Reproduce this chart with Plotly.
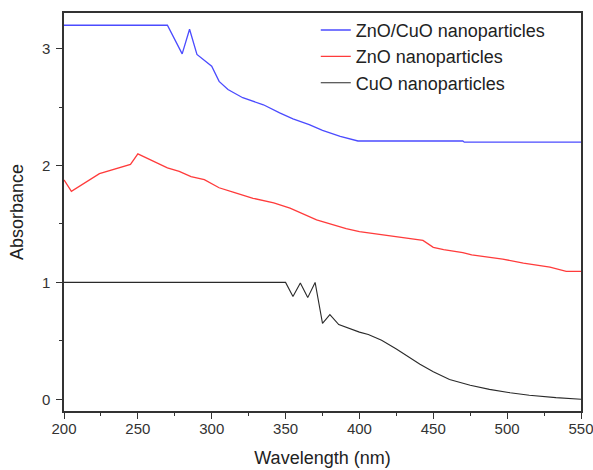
import plotly.graph_objects as go

# ZnO/CuO nanoparticles
wl_zc = [200, 270, 280, 285, 290, 300, 305, 311, 321, 335, 346, 355, 366, 375, 387, 399, 470, 471, 550]
ab_zc = [3.20, 3.20, 2.955, 3.166, 2.95, 2.85, 2.72, 2.65, 2.58, 2.52, 2.45, 2.40, 2.35, 2.30, 2.25, 2.21, 2.21, 2.20, 2.20]

# ZnO nanoparticles
wl_z = [200, 205, 224, 245, 250, 270, 278, 286, 295, 305, 315, 328, 342, 353, 371, 391, 400, 420, 443, 450, 457, 470, 476, 497, 511, 529, 540, 550]
ab_z = [1.877, 1.78, 1.93, 2.01, 2.10, 1.98, 1.95, 1.905, 1.88, 1.81, 1.77, 1.72, 1.68, 1.635, 1.535, 1.46, 1.435, 1.40, 1.36, 1.30, 1.28, 1.255, 1.235, 1.20, 1.165, 1.13, 1.095, 1.095]

# CuO nanoparticles
wl_c = [200, 350, 355, 360, 365, 370, 375, 380, 386, 400, 406, 415, 425, 441, 450, 461, 475, 488, 502, 515, 533, 550]
ab_c = [1.0, 1.0, 0.88, 0.995, 0.87, 1.0, 0.65, 0.725, 0.64, 0.575, 0.555, 0.505, 0.43, 0.30, 0.235, 0.17, 0.12, 0.085, 0.056, 0.035, 0.014, 0.0]

x_ticks = [200, 250, 300, 350, 400, 450, 500, 550]
y_ticks = [0, 1, 2, 3]

FONT = "Liberation Sans, Arial"

fig = go.Figure()
fig.add_trace(go.Scatter(x=wl_zc, y=ab_zc, mode="lines", name="ZnO/CuO nanoparticles",
                         line=dict(color="#4b4bff", width=1.3)))
fig.add_trace(go.Scatter(x=wl_z, y=ab_z, mode="lines", name="ZnO nanoparticles",
                         line=dict(color="#ff3b3b", width=1.3)))
fig.add_trace(go.Scatter(x=wl_c, y=ab_c, mode="lines", name="CuO nanoparticles",
                         line=dict(color="#2a2a2a", width=1.1)))

axis_common = dict(showline=True, linecolor="#333333", linewidth=1.5, mirror=True,
                   ticks="outside", ticklen=6, tickwidth=1.2, tickcolor="#333333",
                   showgrid=False, zeroline=False, automargin=False,
                   ticklabeloverflow="allow",
                   tickfont=dict(family=FONT, size=15, color="#333"))

fig.update_xaxes(range=[200, 550], tickvals=x_ticks, ticklabelstandoff=-3,
                 minor=dict(ticks="outside", ticklen=3, dtick=25, tick0=200, tickcolor="#333333"),
                 title=dict(text="Wavelength (nm)", font=dict(family=FONT, size=18, color="#222"), standoff=16),
                 **axis_common)
fig.update_yaxes(range=[-0.1, 3.305], tickvals=y_ticks, ticklabelstandoff=3,
                 minor=dict(ticks="outside", ticklen=3, dtick=0.5, tick0=0, tickcolor="#333333"),
                 title=dict(text="Absorbance", font=dict(family=FONT, size=18, color="#222"), standoff=14),
                 **axis_common)

fig.update_layout(
    width=593, height=470,
    margin=dict(l=64, r=12, t=13, b=59),
    plot_bgcolor="white", paper_bgcolor="white",
    legend=dict(x=0.487, y=1.003, xanchor="left", yanchor="top", bgcolor="rgba(0,0,0,0)",
                font=dict(family=FONT, size=18, color="#222"),
                tracegroupgap=0),
    showlegend=True,
)

# remove the browser's default 8px body margin so the 593x470 figure fills the window exactly
fig.write_html("out.html", config={"displayModeBar": False},
               post_script="document.body.style.margin='0';document.body.style.overflow='hidden';")
